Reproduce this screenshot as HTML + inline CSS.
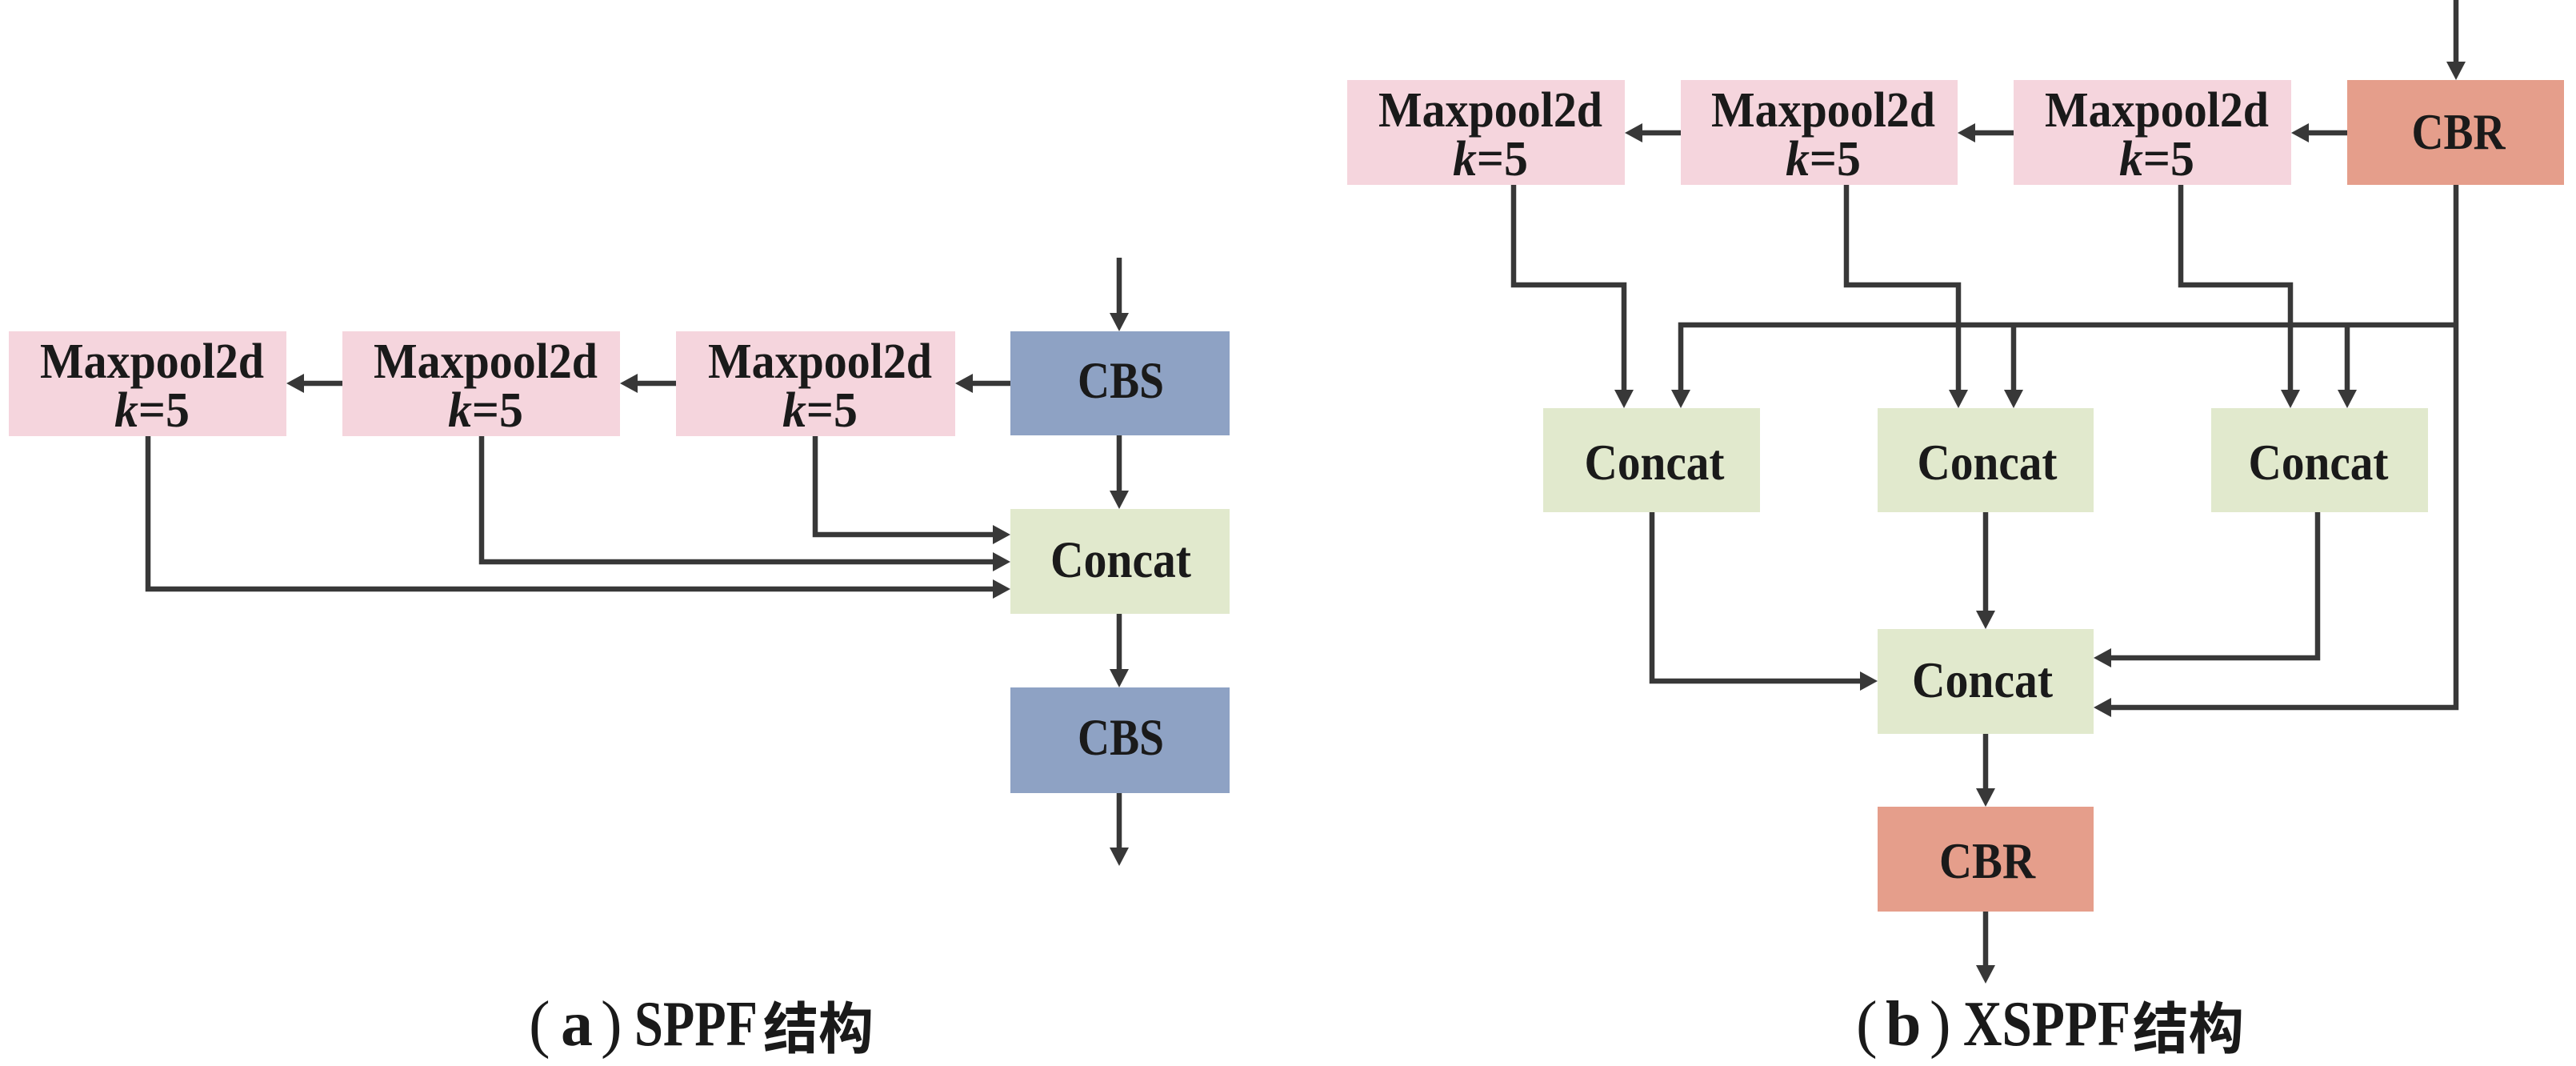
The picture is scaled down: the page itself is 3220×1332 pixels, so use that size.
<!DOCTYPE html>
<html>
<head>
<meta charset="utf-8">
<style>
html,body{margin:0;padding:0;background:#fff;}
svg{display:block;}
.t{font-family:"Liberation Serif","DejaVu Serif","Noto Serif CJK SC",serif;font-weight:bold;fill:#1a1a1a;}
.c{font-family:"Liberation Serif","DejaVu Serif","Noto Serif CJK SC",serif;fill:#1a1a1a;}
.cjk{font-family:"Liberation Sans","Noto Sans CJK SC",sans-serif;font-weight:bold;fill:#1a1a1a;}
.ln{fill:none;stroke:#383838;stroke-width:6.5;stroke-linejoin:miter;}
.ah{fill:#383838;}
</style>
</head>
<body>
<svg width="3220" height="1332" viewBox="0 0 3220 1332" xmlns="http://www.w3.org/2000/svg">
<rect x="0" y="0" width="3220" height="1332" fill="#ffffff"/>

<!-- ===== (a) SPPF ===== -->
<rect x="11" y="414" width="347" height="131" fill="#f5d5dd"/>
<rect x="428" y="414" width="347" height="131" fill="#f5d5dd"/>
<rect x="845" y="414" width="349" height="131" fill="#f5d5dd"/>
<rect x="1263" y="414" width="274" height="130" fill="#8ea2c4"/>
<rect x="1263" y="636" width="274" height="131" fill="#e1e9cd"/>
<rect x="1263" y="859" width="274" height="132" fill="#8ea2c4"/>

<g class="ln">
<path d="M1399,322 V396"/>
<path d="M1263,479 H1212"/>
<path d="M845,479 H793"/>
<path d="M428,479 H376"/>
<path d="M1399,544 V618"/>
<path d="M1019,545 V668 H1245"/>
<path d="M602,545 V702 H1245"/>
<path d="M185,545 V736 H1245"/>
<path d="M1399,767 V841"/>
<path d="M1399,991 V1064"/>
</g>
<g class="ah">
<polygon points="1387,391 1411,391 1399,414"/>
<polygon points="1216,467 1216,491 1194,479"/>
<polygon points="797,467 797,491 775,479"/>
<polygon points="380,467 380,491 358,479"/>
<polygon points="1387,613 1411,613 1399,636"/>
<polygon points="1241,656 1241,680 1263,668"/>
<polygon points="1241,690 1241,714 1263,702"/>
<polygon points="1241,724 1241,748 1263,736"/>
<polygon points="1387,836 1411,836 1399,859"/>
<polygon points="1387,1059 1411,1059 1399,1082"/>
</g>

<text class="t" font-family="Liberation Serif, DejaVu Serif, serif" x="190" y="472" font-size="62" text-anchor="middle" textLength="280" lengthAdjust="spacingAndGlyphs">Maxpool2d</text>
<text class="t" font-family="Liberation Serif, DejaVu Serif, serif" x="190" y="533" font-size="62" text-anchor="middle" textLength="94" lengthAdjust="spacingAndGlyphs"><tspan font-style="italic">k</tspan>=5</text>
<text class="t" font-family="Liberation Serif, DejaVu Serif, serif" x="607" y="472" font-size="62" text-anchor="middle" textLength="280" lengthAdjust="spacingAndGlyphs">Maxpool2d</text>
<text class="t" font-family="Liberation Serif, DejaVu Serif, serif" x="607" y="533" font-size="62" text-anchor="middle" textLength="94" lengthAdjust="spacingAndGlyphs"><tspan font-style="italic">k</tspan>=5</text>
<text class="t" font-family="Liberation Serif, DejaVu Serif, serif" x="1025" y="472" font-size="62" text-anchor="middle" textLength="280" lengthAdjust="spacingAndGlyphs">Maxpool2d</text>
<text class="t" font-family="Liberation Serif, DejaVu Serif, serif" x="1025" y="533" font-size="62" text-anchor="middle" textLength="94" lengthAdjust="spacingAndGlyphs"><tspan font-style="italic">k</tspan>=5</text>
<text class="t" font-family="Liberation Serif, DejaVu Serif, serif" x="1401" y="497" font-size="65" text-anchor="middle" textLength="108" lengthAdjust="spacingAndGlyphs">CBS</text>
<text class="t" font-family="Liberation Serif, DejaVu Serif, serif" x="1401" y="721" font-size="65" text-anchor="middle" textLength="176" lengthAdjust="spacingAndGlyphs">Concat</text>
<text class="t" font-family="Liberation Serif, DejaVu Serif, serif" x="1401" y="943" font-size="65" text-anchor="middle" textLength="108" lengthAdjust="spacingAndGlyphs">CBS</text>

<!-- caption a -->
<text class="c" font-family="Liberation Serif, DejaVu Serif, serif" x="661" y="1306" font-size="80">(</text>
<text class="c" font-family="Liberation Serif, DejaVu Serif, serif" x="701" y="1306" font-size="80" font-weight="bold">a</text>
<text class="c" font-family="Liberation Serif, DejaVu Serif, serif" x="751" y="1306" font-size="80">)</text>
<text class="t" font-family="Liberation Serif, DejaVu Serif, serif" x="793" y="1306" font-size="80" textLength="154" lengthAdjust="spacingAndGlyphs">SPPF</text>
<text class="cjk" x="954" y="1310" font-size="70" textLength="138" lengthAdjust="spacingAndGlyphs">结构</text>

<!-- ===== (b) XSPPF ===== -->
<rect x="1684" y="100" width="347" height="131" fill="#f5d5dd"/>
<rect x="2101" y="100" width="346" height="131" fill="#f5d5dd"/>
<rect x="2517" y="100" width="347" height="131" fill="#f5d5dd"/>
<rect x="2934" y="100" width="271" height="131" fill="#e59e8b"/>
<rect x="1929" y="510" width="271" height="130" fill="#e1e9cd"/>
<rect x="2347" y="510" width="270" height="130" fill="#e1e9cd"/>
<rect x="2764" y="510" width="271" height="130" fill="#e1e9cd"/>
<rect x="2347" y="786" width="270" height="131" fill="#e1e9cd"/>
<rect x="2347" y="1008" width="270" height="131" fill="#e59e8b"/>

<g class="ln">
<path d="M3070,0 V82"/>
<path d="M2934,166 H2882"/>
<path d="M2517,166 H2465"/>
<path d="M2101,166 H2049"/>
<path d="M1892,231 V356 H2030 V492"/>
<path d="M2308,231 V356 H2448 V492"/>
<path d="M2726,231 V356 H2863 V492"/>
<path d="M3070,406 H2101 V492"/>
<path d="M2517,406 V492"/>
<path d="M2934,406 V492"/>
<path d="M3070,231 V884 H2635"/>
<path d="M2065,640 V851 H2329"/>
<path d="M2482,640 V768"/>
<path d="M2897,640 V822 H2635"/>
<path d="M2482,917 V990"/>
<path d="M2482,1139 V1211"/>
</g>
<g class="ah">
<polygon points="3058,77 3082,77 3070,100"/>
<polygon points="2886,154 2886,178 2864,166"/>
<polygon points="2469,154 2469,178 2447,166"/>
<polygon points="2053,154 2053,178 2031,166"/>
<polygon points="2018,487 2042,487 2030,510"/>
<polygon points="2436,487 2460,487 2448,510"/>
<polygon points="2851,487 2875,487 2863,510"/>
<polygon points="2089,487 2113,487 2101,510"/>
<polygon points="2505,487 2529,487 2517,510"/>
<polygon points="2922,487 2946,487 2934,510"/>
<polygon points="2639,872 2639,896 2617,884"/>
<polygon points="2325,839 2325,863 2347,851"/>
<polygon points="2470,763 2494,763 2482,786"/>
<polygon points="2639,810 2639,834 2617,822"/>
<polygon points="2470,985 2494,985 2482,1008"/>
<polygon points="2470,1206 2494,1206 2482,1229"/>
</g>

<text class="t" font-family="Liberation Serif, DejaVu Serif, serif" x="1863" y="158" font-size="62" text-anchor="middle" textLength="280" lengthAdjust="spacingAndGlyphs">Maxpool2d</text>
<text class="t" font-family="Liberation Serif, DejaVu Serif, serif" x="1863" y="219" font-size="62" text-anchor="middle" textLength="94" lengthAdjust="spacingAndGlyphs"><tspan font-style="italic">k</tspan>=5</text>
<text class="t" font-family="Liberation Serif, DejaVu Serif, serif" x="2279" y="158" font-size="62" text-anchor="middle" textLength="280" lengthAdjust="spacingAndGlyphs">Maxpool2d</text>
<text class="t" font-family="Liberation Serif, DejaVu Serif, serif" x="2279" y="219" font-size="62" text-anchor="middle" textLength="94" lengthAdjust="spacingAndGlyphs"><tspan font-style="italic">k</tspan>=5</text>
<text class="t" font-family="Liberation Serif, DejaVu Serif, serif" x="2696" y="158" font-size="62" text-anchor="middle" textLength="280" lengthAdjust="spacingAndGlyphs">Maxpool2d</text>
<text class="t" font-family="Liberation Serif, DejaVu Serif, serif" x="2696" y="219" font-size="62" text-anchor="middle" textLength="94" lengthAdjust="spacingAndGlyphs"><tspan font-style="italic">k</tspan>=5</text>
<text class="t" font-family="Liberation Serif, DejaVu Serif, serif" x="3073" y="186" font-size="64" text-anchor="middle" textLength="117" lengthAdjust="spacingAndGlyphs">CBR</text>
<text class="t" font-family="Liberation Serif, DejaVu Serif, serif" x="2068" y="599" font-size="64" text-anchor="middle" textLength="175" lengthAdjust="spacingAndGlyphs">Concat</text>
<text class="t" font-family="Liberation Serif, DejaVu Serif, serif" x="2484" y="599" font-size="64" text-anchor="middle" textLength="175" lengthAdjust="spacingAndGlyphs">Concat</text>
<text class="t" font-family="Liberation Serif, DejaVu Serif, serif" x="2898" y="599" font-size="64" text-anchor="middle" textLength="175" lengthAdjust="spacingAndGlyphs">Concat</text>
<text class="t" font-family="Liberation Serif, DejaVu Serif, serif" x="2478" y="871" font-size="64" text-anchor="middle" textLength="176" lengthAdjust="spacingAndGlyphs">Concat</text>
<text class="t" font-family="Liberation Serif, DejaVu Serif, serif" x="2484" y="1097" font-size="64" text-anchor="middle" textLength="120" lengthAdjust="spacingAndGlyphs">CBR</text>

<!-- caption b -->
<text class="c" font-family="Liberation Serif, DejaVu Serif, serif" x="2320" y="1306" font-size="80">(</text>
<text class="c" font-family="Liberation Serif, DejaVu Serif, serif" x="2357" y="1306" font-size="80" font-weight="bold">b</text>
<text class="c" font-family="Liberation Serif, DejaVu Serif, serif" x="2412" y="1306" font-size="80">)</text>
<text class="t" font-family="Liberation Serif, DejaVu Serif, serif" x="2454" y="1306" font-size="80" textLength="209" lengthAdjust="spacingAndGlyphs">XSPPF</text>
<text class="cjk" x="2666" y="1310" font-size="70" textLength="139" lengthAdjust="spacingAndGlyphs">结构</text>
</svg>
</body>
</html>
